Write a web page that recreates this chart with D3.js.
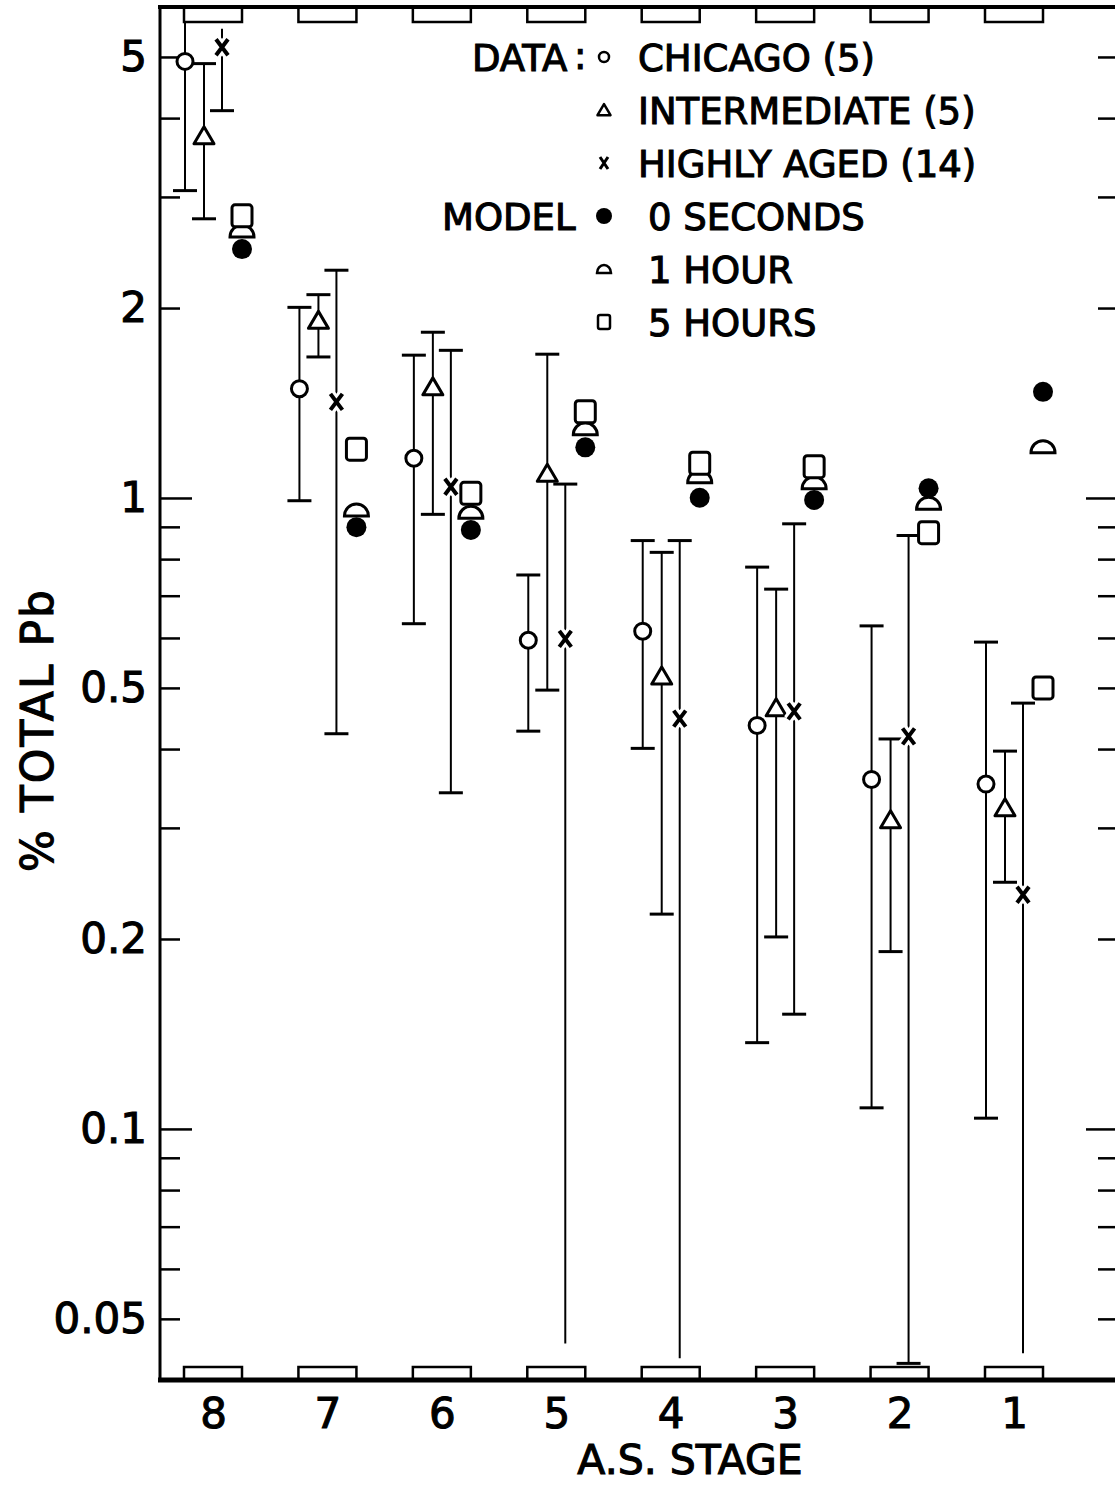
<!DOCTYPE html>
<html>
<head>
<meta charset="utf-8">
<script src="https://cdn.jsdelivr.net/npm/d3@7"></script>
<style>
  body { margin: 0; background: #fff; }
  svg text { font-family: "DejaVu Sans", sans-serif; fill: #000; stroke: #000; stroke-width: 1.1px; }
</style>
</head>
<body>
<svg width="1115" height="1488"></svg>
<script>
const stages = [8, 7, 6, 5, 4, 3, 2, 1];
const yLabels = [5, 2, 1, 0.5, 0.2, 0.1, 0.05];

// measured data: central value and range, by stage (8 -> 1)
const chicago = [4.92, 1.49, 1.156, 0.595, 0.615, 0.436, 0.358, 0.352];
const chicagoLo = [3.07, 0.99, 0.632, 0.427, 0.401, 0.137, 0.108, 0.104];
const chicagoHi = [5.67, 2.005, 1.684, 0.755, 0.856, 0.777, 0.627, 0.591];

const inter = [3.75, 1.912, 1.5, 1.094, 0.522, 0.465, 0.309, 0.323];
const interLo = [2.77, 1.673, 0.942, 0.496, 0.219, 0.2015, 0.191, 0.246];
const interHi = [4.88, 2.1, 1.831, 1.69, 0.82, 0.717, 0.415, 0.397];

const aged = [5.18, 1.42, 1.042, 0.598, 0.447, 0.459, 0.419, 0.235];
const agedLo = [4.11, 0.423, 0.341, 0.0457, 0.0433, 0.152, 0.0425, 0.0441];
const agedHi = [5.54, 2.296, 1.714, 1.052, 0.856, 0.91, 0.872, 0.473];

// range ends that run on without a bar (series, stage, end)
const openEnds = [
  ['chicago', 8, 'hi'],
  ['aged', 8, 'hi'],
  ['aged', 5, 'lo'],
  ['aged', 4, 'lo'],
  ['aged', 1, 'lo'],
];

// model results
const model0s = [2.48, 0.899, 0.89, 1.203, 1.001, 0.993, 1.036, 1.473];
const model1h = [2.65, 0.957, 0.949, 1.287, 1.081, 1.057, 0.981, 1.206];
const model5h = [2.8, 1.195, 1.017, 1.37, 1.135, 1.121, 0.881, 0.5];

const dataLabels = ['CHICAGO (5)', 'INTERMEDIATE (5)', 'HIGHLY AGED (14)'];
const modelLabels = ['0 SECONDS', '1 HOUR', '5 HOURS'];

const svg = d3.select('svg');
const plotLeft = 160;
const plotRight = 1118;
const plotTop = 7;
const plotBottom = 1380;

const y = d3.scaleLog().domain([0.04, 6]).range([plotBottom, plotTop]);
const x = d3.scalePoint().domain(stages).range([213, 1014]);
const offset = { chicago: -28, inter: -9, aged: 9, model: 29 };

// symbol shapes
const trianglePath = s => `M0,${-9 * s}L${10 * s},${8 * s}L${-10 * s},${8 * s}Z`;
const domePath = (w, h) => `M${-w},${h}A${w},${2 * h} 0 0,1 ${w},${h}Z`;

// frame
const frame = svg.append('g').attr('stroke', '#000').attr('fill', 'none');
frame.append('line').attr('x1', plotLeft - 2).attr('x2', plotRight).attr('y1', plotTop).attr('y2', plotTop)
  .attr('stroke-width', 4);
frame.append('line').attr('x1', plotLeft).attr('x2', plotLeft).attr('y1', plotTop - 2).attr('y2', plotBottom + 2)
  .attr('stroke-width', 3);
frame.append('line').attr('x1', plotLeft - 2).attr('x2', plotRight).attr('y1', plotBottom).attr('y2', plotBottom)
  .attr('stroke-width', 5);
frame.append('line').attr('x1', plotRight).attr('x2', plotRight).attr('y1', plotTop).attr('y2', plotBottom)
  .attr('stroke-width', 3);

// stage boxes on top and bottom edges
frame.selectAll('.box-top')
  .data(stages)
  .enter()
  .append('rect')
  .attr('class', 'box-top')
  .attr('x', d => x(d) - 29)
  .attr('y', plotTop)
  .attr('width', 58)
  .attr('height', 15)
  .attr('stroke-width', 2.5);
frame.selectAll('.box-bottom')
  .data(stages)
  .enter()
  .append('rect')
  .attr('class', 'box-bottom')
  .attr('x', d => x(d) - 29)
  .attr('y', plotBottom - 13)
  .attr('width', 58)
  .attr('height', 13)
  .attr('stroke-width', 2.5);

// y ticks inside both edges
const tickVals = y.ticks();
const isDecade = d => Math.abs(Math.log10(d) - Math.round(Math.log10(d))) < 1e-6;

const leftTicks = svg.append('g')
  .attr('transform', `translate(${plotLeft},0)`)
  .call(d3.axisRight(y).tickValues(tickVals).tickFormat('').tickSize(20));
leftTicks.select('.domain').remove();
leftTicks.selectAll('.tick line')
  .attr('x2', d => isDecade(d) ? 32 : 20)
  .attr('stroke-width', 2.5);

const rightTicks = svg.append('g')
  .attr('transform', `translate(${plotRight},0)`)
  .call(d3.axisLeft(y).tickValues(tickVals).tickFormat('').tickSize(20));
rightTicks.select('.domain').remove();
rightTicks.selectAll('.tick line')
  .attr('x2', d => isDecade(d) ? -32 : -20)
  .attr('stroke-width', 2.5);

// y tick labels
const yLab = svg.append('g')
  .attr('transform', `translate(${plotLeft},0)`)
  .call(d3.axisLeft(y).tickValues(yLabels).tickSize(0).tickPadding(13)
    .tickFormat(d3.format('~g')));
yLab.select('.domain').remove();
yLab.selectAll('text')
  .attr('font-size', 42)
  .attr('font-family', '"DejaVu Sans", sans-serif');

// x tick labels
const xLab = svg.append('g')
  .attr('transform', `translate(0,${plotBottom})`)
  .call(d3.axisBottom(x).tickSize(0).tickPadding(18));
xLab.select('.domain').remove();
xLab.selectAll('text')
  .attr('font-size', 42)
  .attr('font-family', '"DejaVu Sans", sans-serif');

// axis titles
svg.append('text')
  .attr('transform', 'translate(53,730) rotate(-90)')
  .attr('text-anchor', 'middle')
  .attr('font-size', 44)
  .attr('letter-spacing', 2)
  .text('% TOTAL Pb');
svg.append('text')
  .attr('x', 690)
  .attr('y', 1474)
  .attr('text-anchor', 'middle')
  .attr('font-size', 41)
  .text('A.S. STAGE');

// error bars
const series = [
  { key: 'chicago', vals: chicago, lo: chicagoLo, hi: chicagoHi },
  { key: 'inter', vals: inter, lo: interLo, hi: interHi },
  { key: 'aged', vals: aged, lo: agedLo, hi: agedHi },
];
const isOpen = (key, stage, end) => openEnds.some(o => o[0] === key && o[1] === stage && o[2] === end);

const bars = [];
series.forEach((s) => {
  stages.forEach((st, i) => {
    bars.push({ key: s.key, stage: st, v: s.vals[i], lo: s.lo[i], hi: s.hi[i] });
  });
});

const barG = svg.append('g').attr('stroke', '#000');
barG.selectAll('.bar')
  .data(bars)
  .enter()
  .append('line')
  .attr('class', 'bar')
  .attr('x1', d => x(d.stage) + offset[d.key])
  .attr('x2', d => x(d.stage) + offset[d.key])
  .attr('y1', d => y(d.lo))
  .attr('y2', d => y(d.hi))
  .attr('stroke-width', 2);

const caps = [];
bars.forEach((b) => {
  if (!isOpen(b.key, b.stage, 'lo')) caps.push({ key: b.key, stage: b.stage, v: b.lo });
  if (!isOpen(b.key, b.stage, 'hi')) caps.push({ key: b.key, stage: b.stage, v: b.hi });
});
barG.selectAll('.cap')
  .data(caps)
  .enter()
  .append('line')
  .attr('class', 'cap')
  .attr('x1', d => x(d.stage) + offset[d.key] - 12)
  .attr('x2', d => x(d.stage) + offset[d.key] + 12)
  .attr('y1', d => y(d.v))
  .attr('y2', d => y(d.v))
  .attr('stroke-width', 3);

// data markers
const markG = svg.append('g').attr('stroke', '#000').attr('fill', '#fff');
const place = key => (d, i) => `translate(${x(stages[i]) + offset[key]},${y(d)})`;

markG.selectAll('.chicago')
  .data(chicago)
  .enter()
  .append('circle')
  .attr('class', 'chicago')
  .attr('transform', place('chicago'))
  .attr('r', 8)
  .attr('stroke-width', 3);

markG.selectAll('.inter')
  .data(inter)
  .enter()
  .append('path')
  .attr('class', 'inter')
  .attr('transform', place('inter'))
  .attr('d', trianglePath(1))
  .attr('stroke-width', 3)
  .attr('stroke-linejoin', 'round');

const agedMarks = markG.selectAll('.aged')
  .data(aged)
  .enter()
  .append('g')
  .attr('class', 'aged')
  .attr('transform', place('aged'));
agedMarks.append('path')
  .attr('d', 'M-6,-8L6,8M6,-8L-6,8')
  .attr('stroke', '#fff')
  .attr('stroke-width', 10);
agedMarks.append('path')
  .attr('d', 'M-6,-8L6,8M6,-8L-6,8')
  .attr('stroke-width', 4);

// model markers
markG.selectAll('.m0')
  .data(model0s)
  .enter()
  .append('circle')
  .attr('class', 'm0')
  .attr('transform', place('model'))
  .attr('r', 10)
  .attr('fill', '#000')
  .attr('stroke', 'none');

markG.selectAll('.m1')
  .data(model1h)
  .enter()
  .append('path')
  .attr('class', 'm1')
  .attr('transform', place('model'))
  .attr('d', domePath(12, 6))
  .attr('stroke-width', 3);

markG.selectAll('.m5')
  .data(model5h)
  .enter()
  .append('rect')
  .attr('class', 'm5')
  .attr('transform', place('model'))
  .attr('x', -10)
  .attr('y', -11)
  .attr('width', 20)
  .attr('height', 22)
  .attr('rx', 3)
  .attr('stroke-width', 3);

// legend
const legend = svg.append('g');
const rowY = i => 57 + i * 53;
const symX = 604;

legend.append('text').attr('x', 472).attr('y', rowY(0) + 14).attr('font-size', 37).text('DATA');
legend.append('text').attr('x', 574).attr('y', rowY(0) + 12).attr('font-size', 37).text(':');
legend.append('text').attr('x', 442).attr('y', rowY(3) + 14).attr('font-size', 37).text('MODEL');

legend.selectAll('.dl')
  .data(dataLabels)
  .enter()
  .append('text')
  .attr('class', 'dl')
  .attr('x', 638)
  .attr('y', (d, i) => rowY(i) + 14)
  .attr('font-size', 37)
  .text(d => d);
legend.selectAll('.ml')
  .data(modelLabels)
  .enter()
  .append('text')
  .attr('class', 'ml')
  .attr('x', 648)
  .attr('y', (d, i) => rowY(i + 3) + 14)
  .attr('font-size', 37)
  .text(d => d);

const lsym = legend.append('g').attr('stroke', '#000').attr('fill', '#fff');
lsym.append('circle').attr('cx', symX).attr('cy', rowY(0)).attr('r', 5).attr('stroke-width', 2.5);
lsym.append('path').attr('transform', `translate(${symX},${rowY(1)})`)
  .attr('d', trianglePath(0.65)).attr('stroke-width', 2.5).attr('stroke-linejoin', 'round');
lsym.append('path').attr('transform', `translate(${symX},${rowY(2)})`)
  .attr('d', 'M-4,-6L4,6M4,-6L-4,6').attr('stroke-width', 3);
lsym.append('circle').attr('cx', symX).attr('cy', rowY(3)).attr('r', 8)
  .attr('fill', '#000').attr('stroke', 'none');
lsym.append('path').attr('transform', `translate(${symX},${rowY(4)})`)
  .attr('d', domePath(7, 4)).attr('stroke-width', 2.5);
lsym.append('rect').attr('x', symX - 6).attr('y', rowY(5) - 7)
  .attr('width', 12).attr('height', 14).attr('rx', 2).attr('stroke-width', 2.5);
</script>
</body>
</html>
